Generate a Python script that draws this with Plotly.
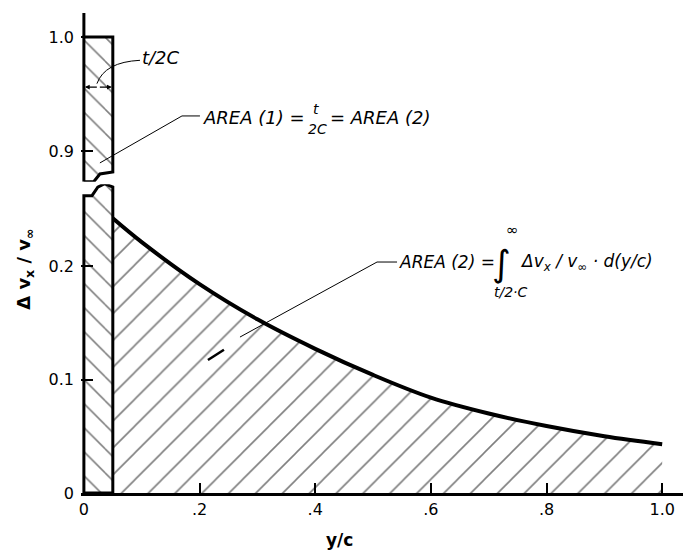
import plotly.graph_objects as go

# ---- data ----
t_over_2c = 0.05           # half-thickness ratio (width of AREA 1)
area1_height = 1.0         # height of AREA 1 rectangle
curve_x = [0.05, 0.10, 0.20, 0.30, 0.40, 0.50, 0.60, 0.70, 0.80, 0.90, 1.00]
curve_y = [0.242, 0.221, 0.184, 0.153, 0.127, 0.104, 0.084, 0.070, 0.059, 0.050, 0.043]

x_tickvals = [0, 0.2, 0.4, 0.6, 0.8, 1.0]
x_ticktext = ["0", ".2", ".4", ".6", ".8", "1.0"]
y_low_tickvals = [0, 0.1, 0.2]
y_low_ticktext = ["0", "0.1", "0.2"]
y_up_tickvals = [0.9, 1.0]
y_up_ticktext = ["0.9", "1.0"]

# axis break geometry
low_range = [0, 0.272]
up_range = [0.873, 1.021]
low_break = [(0.0, 0.262), (0.014, 0.262), (0.024, 0.2695), (0.036, 0.2725), (0.05, 0.2695)]
up_break = [(0.0, 0.873), (0.017, 0.873), (0.0277, 0.8798), (0.05, 0.8816)]

FONT = "DejaVu Sans"
fig = go.Figure()

# velocity curve with hatched AREA 2 (drawn first so the rectangle edge sits on top)
fig.add_trace(go.Scatter(x=curve_x, y=curve_y, xaxis="x", yaxis="y", mode="lines",
                         fill="tozeroy",
                         fillpattern=dict(shape="/", size=19, solidity=0.085,
                                          fgcolor="black", bgcolor="white"),
                         line=dict(color="black", width=4, shape="spline"),
                         hoverinfo="skip"))

# upper rectangle (AREA 1, upper part)
ux = [p[0] for p in up_break] + [t_over_2c, 0.0, 0.0]
uy = [p[1] for p in up_break] + [area1_height, area1_height, up_break[0][1]]
fig.add_trace(go.Scatter(x=ux, y=uy, xaxis="x", yaxis="y2", mode="lines",
                         fill="toself", fillcolor="rgba(0,0,0,0)",
                         fillpattern=dict(shape="\\", size=17, solidity=0.09,
                                          fgcolor="black", bgcolor="white"),
                         line=dict(color="black", width=3), hoverinfo="skip"))

# lower rectangle (AREA 1, lower part)
lx = [0.0, t_over_2c] + [p[0] for p in reversed(low_break)] + [0.0]
ly = [0.0, 0.0] + [p[1] for p in reversed(low_break)] + [0.0]
fig.add_trace(go.Scatter(x=lx, y=ly, xaxis="x", yaxis="y", mode="lines",
                         fill="toself", fillcolor="rgba(0,0,0,0)",
                         fillpattern=dict(shape="\\", size=17, solidity=0.09,
                                          fgcolor="black", bgcolor="white"),
                         line=dict(color="black", width=3), hoverinfo="skip"))

# upper axis extension above rectangle
fig.add_trace(go.Scatter(x=[0, 0], y=[area1_height, up_range[1]], xaxis="x", yaxis="y2",
                         mode="lines", line=dict(color="black", width=3), hoverinfo="skip"))

shapes = []
# t/2C leader
shapes.append(dict(type="path", xref="x", yref="y2",
                   path="M 0.097,0.9795 Q 0.036,0.978 0.0225,0.959",
                   line=dict(color="black", width=1)))
# AREA(1) leader
shapes.append(dict(type="path", xref="x", yref="y2",
                   path="M 0.2007,0.9307 L 0.1696,0.9307 L 0.0277,0.8895",
                   line=dict(color="black", width=1)))
# AREA(2) leader
shapes.append(dict(type="path", xref="x", yref="y",
                   path="M 0.5415,0.2035 L 0.5069,0.2035 L 0.2699,0.1374",
                   line=dict(color="black", width=1)))
shapes.append(dict(type="line", xref="x", yref="y", x0=0.2145, y0=0.1172, x1=0.2422, y1=0.1262,
                   line=dict(color="black", width=2.5)))

ann = []
def A(text, x, y, yref, xanchor="left", size=17, **kw):
    ann.append(dict(text=text, x=x, y=y, xref="x", yref=yref, showarrow=False,
                    xanchor=xanchor, yanchor="middle",
                    font=dict(family=FONT, size=size, color="black"), **kw))

# dimension arrows for t/2C
for tip in (0.0, t_over_2c):
    ann.append(dict(text="", x=tip, y=0.956, xref="x", yref="y2",
                    ax=t_over_2c / 2, ay=0.956, axref="x", ayref="y2",
                    showarrow=True, arrowhead=2, arrowsize=0.8, arrowwidth=1.2,
                    arrowcolor="black", standoff=1))

A("<i>t/2C</i>", 0.097, 0.9816, "y2", size=18)
A("<i>AREA (1) =</i>", 0.386, 0.9289, "y2", xanchor="right", size=18)
A("<i>t</i>", 0.401, 0.9365, "y2", xanchor="center", size=14)
A("<i>2C</i>", 0.404, 0.9195, "y2", xanchor="center", size=14)
A("<i>= AREA (2)</i>", 0.4225, 0.9289, "y2", size=18)

A("<i>AREA (2) =</i>", 0.5415, 0.2035, "y")
A("<i>∫</i>", 0.722, 0.2026, "y", xanchor="center", size=36)
A("∞", 0.742, 0.2315, "y", xanchor="center", size=15)
A("<i>t/2·C</i>", 0.739, 0.1775, "y", xanchor="center", size=14)
A("<i>Δv<sub>x</sub> / v<sub>∞</sub> · d(y/c)</i>", 0.751, 0.2035, "y")

# axis titles
ann.append(dict(text="<b>Δ v<sub>x</sub> / v<sub>∞</sub></b>", x=-0.093, y=0.465, xref="paper", yref="paper",
                showarrow=False, textangle=-90, xanchor="center", yanchor="middle",
                font=dict(family=FONT, size=18, color="black")))
ann.append(dict(text="<b>y/c</b>", x=0.430, y=-0.098, xref="paper", yref="paper",
                showarrow=False, xanchor="center", yanchor="middle",
                font=dict(family=FONT, size=17, color="black")))

plot_h = 480.0
low_px = (low_range[1] - low_range[0]) * 1135
up_px = (up_range[1] - up_range[0]) * 1140

tickfont = dict(family=FONT, size=16, color="black")
fig.update_layout(
    width=683, height=551,
    margin=dict(l=81, r=0, t=13, b=58),
    paper_bgcolor="white", plot_bgcolor="rgba(0,0,0,0)",
    showlegend=False,
    shapes=shapes, annotations=ann,
    font=dict(family=FONT, size=16, color="black"),
    xaxis=dict(range=[-0.005, 1.036], domain=[0, 1], anchor="y",
               showgrid=False, zeroline=False, showline=True, linewidth=3, linecolor="black",
               ticks="inside", ticklen=10, tickwidth=1.5, tickcolor="black",
               tickvals=x_tickvals, ticktext=x_ticktext, tickfont=tickfont),
    yaxis=dict(range=low_range, domain=[0, low_px / plot_h], anchor="x",
               showgrid=False, zeroline=False, showline=False,
               ticks="inside", ticklen=12, tickwidth=1.5, tickcolor="black",
               ticklabelstandoff=6,
               tickvals=y_low_tickvals, ticktext=y_low_ticktext, tickfont=tickfont),
    yaxis2=dict(range=up_range, domain=[1 - up_px / plot_h, 1], anchor="x",
                showgrid=False, zeroline=False, showline=False,
                ticks="inside", ticklen=12, tickwidth=1.5, tickcolor="black",
                ticklabelstandoff=6,
                tickvals=y_up_tickvals, ticktext=y_up_ticktext, tickfont=tickfont),
)

fig.write_html("out.html", config={"displayModeBar": False},
               post_script="document.body.style.margin='0px';")
